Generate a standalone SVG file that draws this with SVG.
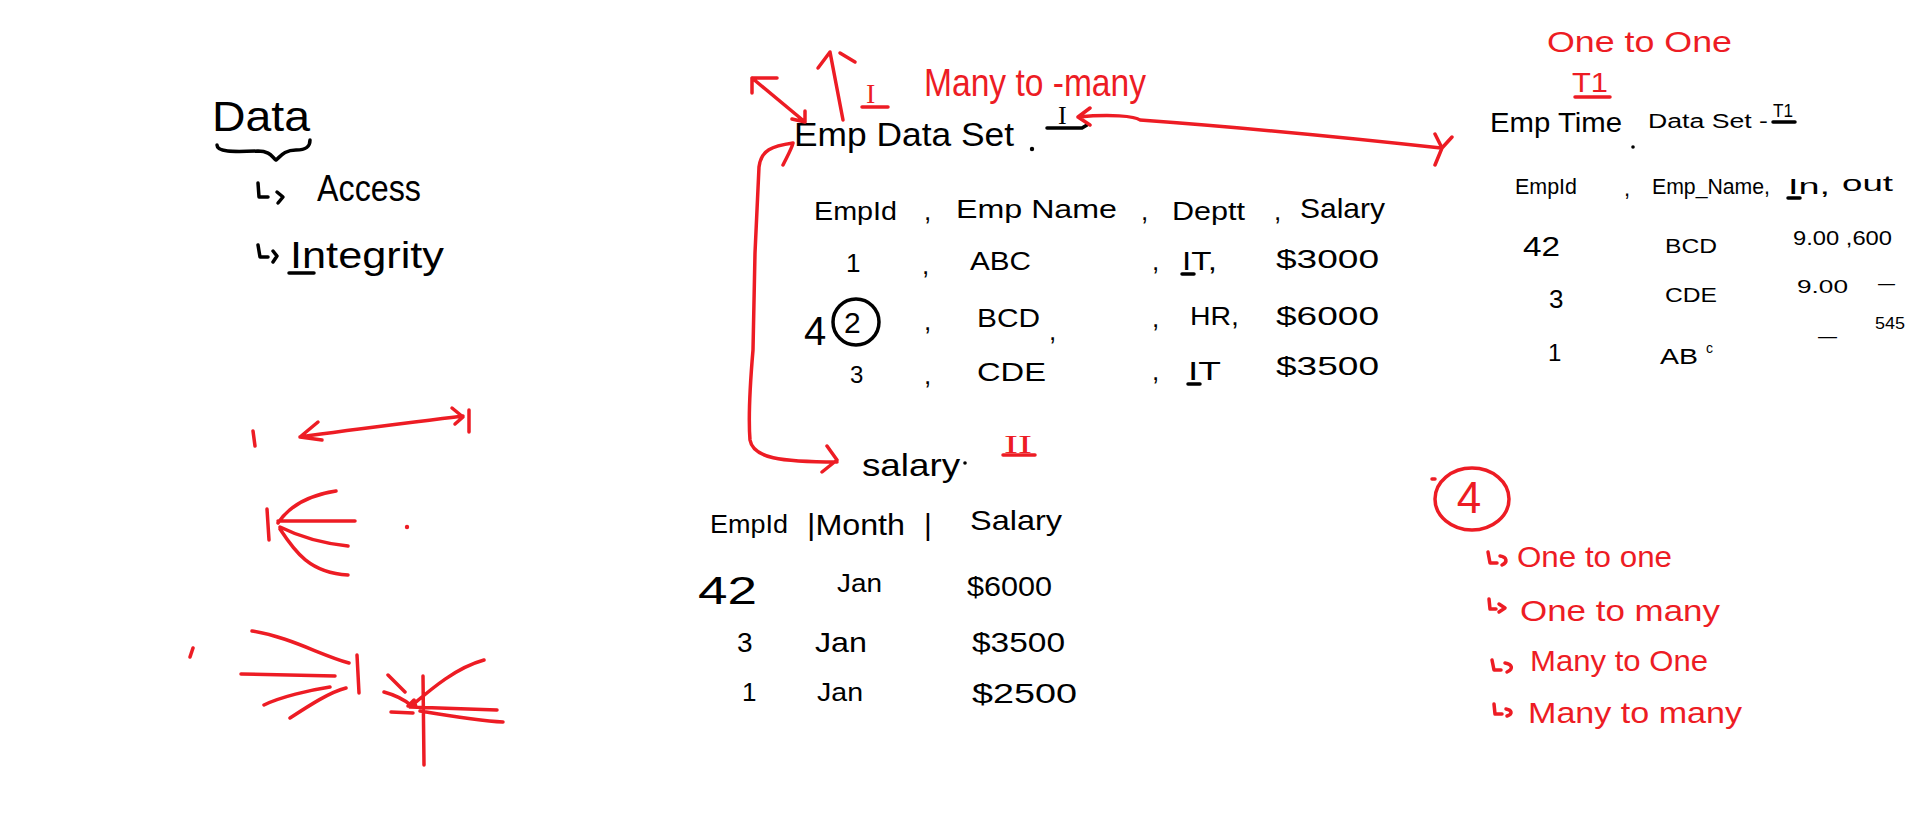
<svg xmlns="http://www.w3.org/2000/svg" width="1914" height="823" viewBox="0 0 1914 823">
<defs>
<style>
.k{fill:#000;font-family:"Liberation Sans",Arial,sans-serif}
.kse{fill:#000;font-family:"Liberation Serif","Times New Roman",serif}
.r{fill:#ED1C24;font-family:"Liberation Sans",Arial,sans-serif}
.rse{fill:#ED1C24;font-family:"Liberation Serif","Times New Roman",serif}
.rs{fill:none;stroke:#ED1C24;stroke-width:3.5;stroke-linecap:round;stroke-linejoin:round}
.ks{fill:none;stroke:#000;stroke-width:3.5;stroke-linecap:round;stroke-linejoin:round}
</style>
</defs>
<rect width="1914" height="823" fill="#fff"/>

<!-- Data concept -->
<g id="data-concept">
<text class="k" x="212" y="131" font-size="42" textLength="98" lengthAdjust="spacingAndGlyphs">Data</text>
<path class="ks" d="M217,145 C217,152 232,152 258,151 C270,151 272,157 276,160 C280,157 284,150 296,150 C307,150 310,146 310,140"/>
</g>
<g id="access">
<path class="ks" d="M258,183 L259,197 L268,197 M277,192 L283,197 L278,203"/>
<text class="k" x="317" y="201" font-size="36" textLength="104" lengthAdjust="spacingAndGlyphs">Access</text>
</g>
<g id="integrity">
<path class="ks" d="M258,245 L260,257 L268,257 M273,251 L277,256 L273,262"/>
<text class="k" x="290" y="268" font-size="36" textLength="154" lengthAdjust="spacingAndGlyphs">Integrity</text>
<path class="ks" d="M289,273 L314,273"/>
</g>

<!-- notation sketches -->
<g id="notation-sketches">
<path class="rs" d="M253,431 L255,446"/>
<path class="rs" d="M300,437 C350,430 400,424 463,416 M318,422 L300,437 L322,440 M452,408 L463,417 L455,424 M469,410 L469,432"/>
<path class="rs" d="M267,509 L269,540 M278,523 C290,505 310,495 336,491 M278,521 L355,521 M280,527 C300,537 320,543 348,546 M280,529 C295,552 310,573 348,575"/>
<circle cx="407" cy="527" r="2.2" fill="#ED1C24"/>
<path class="rs" d="M193,648 L190,657"/>
<path class="rs" d="M252,631 C290,637 320,655 349,663 M241,674 L335,676 M264,705 C280,697 310,690 330,687 M290,718 C310,705 330,692 346,688 M357,655 L359,693"/>
<path class="rs" d="M423,676 L424,765 M410,707 C430,690 455,668 484,660 M410,707 L497,710 M420,711 C450,716 480,721 503,722 M388,675 L405,692 M384,692 C395,695 405,700 412,706 M391,712 L413,713 M408,706 L414,700 L416,707 Z"/>
</g>

<!-- Emp Data Set title -->
<g id="emp-data-set">
<text class="rse" x="866" y="103" font-size="28">I</text>
<path class="rs" d="M862,107 L888,107"/>
<text class="r" x="924" y="96" font-size="38" textLength="222" lengthAdjust="spacingAndGlyphs">Many to -many</text>
<text class="k" x="794" y="146" font-size="34" textLength="220" lengthAdjust="spacingAndGlyphs">Emp Data Set</text>
<circle cx="1032" cy="149" r="2.2" fill="#000"/>
<text class="kse" x="1058" y="124" font-size="26">I</text>
<path class="ks" d="M1047,128 L1082,128 L1087,125"/>
</g>

<!-- Table 1 -->
<g id="emp-data-table">
<text class="k" x="814" y="220" font-size="26" textLength="83" lengthAdjust="spacingAndGlyphs">EmpId</text>
<text class="k" x="924" y="220" font-size="26">,</text>
<text class="k" x="956" y="218" font-size="26" textLength="161" lengthAdjust="spacingAndGlyphs">Emp Name</text>
<text class="k" x="1141" y="220" font-size="26">,</text>
<text class="k" x="1172" y="220" font-size="26" textLength="73" lengthAdjust="spacingAndGlyphs">Deptt</text>
<text class="k" x="1274" y="220" font-size="26">,</text>
<text class="k" x="1300" y="218" font-size="28" textLength="85" lengthAdjust="spacingAndGlyphs">Salary</text>

<text class="k" x="846" y="272" font-size="26">1</text>
<text class="k" x="922" y="274" font-size="26">,</text>
<text class="k" x="970" y="270" font-size="26" textLength="61" lengthAdjust="spacingAndGlyphs">ABC</text>
<text class="k" x="1152" y="270" font-size="26">,</text>
<text class="k" x="1182" y="270" font-size="26" textLength="35" lengthAdjust="spacingAndGlyphs">IT,</text>
<path class="ks" d="M1182,274 L1194,274"/>
<text class="k" x="1276" y="268" font-size="26" textLength="103" lengthAdjust="spacingAndGlyphs">$3000</text>

<text class="k" x="804" y="345" font-size="40">4</text>
<circle class="ks" cx="856" cy="322" r="23"/>
<text class="k" x="844" y="333" font-size="30">2</text>
<text class="k" x="924" y="330" font-size="26">,</text>
<text class="k" x="977" y="327" font-size="26" textLength="63" lengthAdjust="spacingAndGlyphs">BCD</text>
<text class="k" x="1049" y="340" font-size="26">,</text>
<text class="k" x="1152" y="327" font-size="26">,</text>
<text class="k" x="1190" y="325" font-size="26" textLength="49" lengthAdjust="spacingAndGlyphs">HR,</text>
<text class="k" x="1276" y="325" font-size="26" textLength="103" lengthAdjust="spacingAndGlyphs">$6000</text>

<text class="k" x="850" y="383" font-size="24">3</text>
<text class="k" x="924" y="384" font-size="26">,</text>
<text class="k" x="977" y="381" font-size="26" textLength="69" lengthAdjust="spacingAndGlyphs">CDE</text>
<text class="k" x="1152" y="380" font-size="26">,</text>
<text class="k" x="1188" y="380" font-size="26" textLength="33" lengthAdjust="spacingAndGlyphs">IT</text>
<path class="ks" d="M1188,384 L1200,384"/>
<text class="k" x="1276" y="375" font-size="26" textLength="103" lengthAdjust="spacingAndGlyphs">$3500</text>
</g>

<!-- Salary table -->
<g id="salary-table">
<text class="k" x="862" y="476" font-size="32" textLength="98" lengthAdjust="spacingAndGlyphs">salary</text>
<circle cx="965" cy="463" r="1.8" fill="#000"/>
<text class="rse" x="1004" y="453" font-size="26" textLength="28" lengthAdjust="spacingAndGlyphs">II</text>
<path class="rs" d="M1003,455 L1035,455"/>
<text class="k" x="710" y="533" font-size="26" textLength="78" lengthAdjust="spacingAndGlyphs">EmpId</text>
<text class="k" x="807" y="535" font-size="30" textLength="98" lengthAdjust="spacingAndGlyphs">|Month</text>
<text class="k" x="924" y="535" font-size="30">|</text>
<text class="k" x="970" y="530" font-size="28" textLength="92" lengthAdjust="spacingAndGlyphs">Salary</text>

<text class="k" x="698" y="604" font-size="38" textLength="59" lengthAdjust="spacingAndGlyphs">42</text>
<text class="k" x="837" y="592" font-size="26" textLength="45" lengthAdjust="spacingAndGlyphs">Jan</text>
<text class="k" x="967" y="596" font-size="28" textLength="85" lengthAdjust="spacingAndGlyphs">$6000</text>

<text class="k" x="737" y="652" font-size="28">3</text>
<text class="k" x="815" y="652" font-size="28" textLength="52" lengthAdjust="spacingAndGlyphs">Jan</text>
<text class="k" x="972" y="652" font-size="28" textLength="93" lengthAdjust="spacingAndGlyphs">$3500</text>

<text class="k" x="742" y="701" font-size="26">1</text>
<text class="k" x="817" y="701" font-size="26" textLength="46" lengthAdjust="spacingAndGlyphs">Jan</text>
<text class="k" x="972" y="703" font-size="28" textLength="105" lengthAdjust="spacingAndGlyphs">$2500</text>
</g>

<!-- Emp Time data set -->
<g id="emp-time">
<text class="r" x="1547" y="52" font-size="30" textLength="185" lengthAdjust="spacingAndGlyphs">One to One</text>
<text class="r" x="1572" y="92" font-size="28" textLength="36" lengthAdjust="spacingAndGlyphs">T1</text>
<path class="rs" d="M1575,97 L1610,97"/>
<text class="k" x="1490" y="132" font-size="28" textLength="132" lengthAdjust="spacingAndGlyphs">Emp Time</text>
<circle cx="1633" cy="147" r="1.8" fill="#000"/>
<text class="k" x="1648" y="128" font-size="20" textLength="120" lengthAdjust="spacingAndGlyphs">Data Set -</text>
<text class="k" x="1773" y="117" font-size="18" textLength="20" lengthAdjust="spacingAndGlyphs">T1</text>
<path class="ks" d="M1773,122 L1795,122"/>
</g>

<g id="emp-time-table">
<text class="k" x="1515" y="194" font-size="22" textLength="62" lengthAdjust="spacingAndGlyphs">EmpId</text>
<text class="k" x="1624" y="196" font-size="22">,</text>
<text class="k" x="1652" y="194" font-size="22" textLength="118" lengthAdjust="spacingAndGlyphs">Emp_Name,</text>
<text class="k" x="1788" y="194" font-size="22" textLength="42" lengthAdjust="spacingAndGlyphs">In,</text>
<path class="ks" d="M1788,198 L1800,198"/>
<text class="k" x="1842" y="191" font-size="22" textLength="51" lengthAdjust="spacingAndGlyphs">out</text>

<text class="k" x="1523" y="256" font-size="28" textLength="37" lengthAdjust="spacingAndGlyphs">42</text>
<text class="k" x="1665" y="253" font-size="20" textLength="52" lengthAdjust="spacingAndGlyphs">BCD</text>
<text class="k" x="1793" y="245" font-size="20" textLength="99" lengthAdjust="spacingAndGlyphs">9.00 ,600</text>

<text class="k" x="1549" y="308" font-size="26">3</text>
<text class="k" x="1665" y="302" font-size="20" textLength="52" lengthAdjust="spacingAndGlyphs">CDE</text>
<text class="k" x="1797" y="293" font-size="18" textLength="51" lengthAdjust="spacingAndGlyphs">9.00</text>
<text class="k" x="1878" y="290" font-size="20" textLength="17" lengthAdjust="spacingAndGlyphs">—</text>

<text class="k" x="1548" y="361" font-size="24">1</text>
<text class="k" x="1660" y="364" font-size="22" textLength="38" lengthAdjust="spacingAndGlyphs">AB</text>
<text class="k" x="1706" y="353" font-size="14">c</text>
<text class="k" x="1818" y="343" font-size="20" textLength="19" lengthAdjust="spacingAndGlyphs">—</text>
<text class="k" x="1875" y="329" font-size="16" textLength="30" lengthAdjust="spacingAndGlyphs">545</text>
</g>

<!-- relationship types -->
<g id="relationship-types">
<ellipse class="rs" cx="1472" cy="499" rx="37" ry="31"/>
<path class="rs" d="M1432,479 L1435,479"/>
<text class="r" x="1469" y="513" font-size="44" text-anchor="middle">4</text>
<path class="rs" d="M1488,552 L1490,563 L1497,563 M1500,556 C1507,557 1508,562 1502,565"/>
<text class="r" x="1517" y="567" font-size="30" textLength="155" lengthAdjust="spacingAndGlyphs">One to one</text>
<path class="rs" d="M1489,599 L1490,609 L1496,609 M1499,604 L1505,608 L1499,612"/>
<text class="r" x="1520" y="621" font-size="30" textLength="200" lengthAdjust="spacingAndGlyphs">One to many</text>
<path class="rs" d="M1492,660 L1494,670 L1501,670 M1505,663 C1512,664 1514,669 1507,672"/>
<text class="r" x="1530" y="671" font-size="30" textLength="178" lengthAdjust="spacingAndGlyphs">Many to One</text>
<path class="rs" d="M1494,704 L1495,714 L1502,714 M1506,709 C1512,710 1513,714 1507,716"/>
<text class="r" x="1528" y="723" font-size="30" textLength="214" lengthAdjust="spacingAndGlyphs">Many to many</text>
</g>

<!-- connectors -->
<g id="connectors">
<path class="rs" d="M752,78 L805,122 M752,78 L777,78 M752,78 L752,93 M805,122 L792,119 M805,122 L805,111"/>
<path class="rs" d="M843,120 L830,52 M818,68 L830,52 M840,53 L855,62"/>
<path class="rs" d="M1078,117 C1110,114 1135,116 1140,120 C1250,128 1350,138 1441,148 M1090,108 L1078,117 L1090,125 M1435,134 L1442,148 L1452,137 M1442,148 L1435,165"/>
<path class="rs" d="M793,143 C772,146 761,150 759,167 L755,253 L753,350 C750,385 748,415 750,440 C753,458 780,462 837,462 M783,165 C788,155 792,148 793,143 M827,446 L837,460 L822,472"/>
</g>
</svg>
